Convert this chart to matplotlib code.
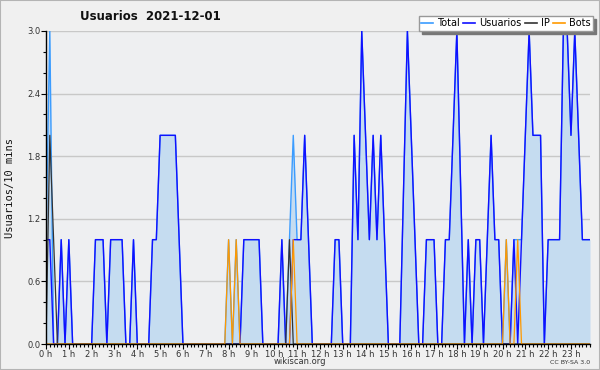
import numpy as np
import matplotlib
matplotlib.use("Agg")
import matplotlib.pyplot as plt
from matplotlib.ticker import MultipleLocator
from matplotlib.lines import Line2D
from matplotlib.patches import Rectangle

# --- data: one value per 10-minute slot (144 slots) ---
usuarios = [1, 1, 0, 0, 1, 0, 1, 0, 0, 0, 0, 0,
            0, 1, 1, 1, 0, 1, 1, 1, 1, 0, 0, 1,
            0, 0, 0, 0, 1, 1, 2, 2, 2, 2, 2, 1,
            0, 0, 0, 0, 0, 0, 0, 0, 0, 0, 0, 0,
            0, 0, 0, 0, 1, 1, 1, 1, 1, 0, 0, 0,
            0, 0, 1, 0, 0, 1, 1, 1, 2, 1, 0, 0,
            0, 0, 0, 0, 1, 1, 0, 0, 0, 2, 1, 3,
            2, 1, 2, 1, 2, 1, 0, 0, 0, 0, 1.5, 3,
            2, 1, 0, 0, 1, 1, 1, 0, 0, 1, 1, 2,
            3, 1.5, 0, 1, 0, 1, 1, 0, 1, 2, 1, 1,
            0, 0, 0, 1, 0, 1, 2, 3, 2, 2, 2, 0,
            1, 1, 1, 1, 3, 3, 2, 3, 2, 1, 1, 1]

total = [1, 3, 0, 0, 1, 0, 1, 0, 0, 0, 0, 0,
         0, 1, 1, 1, 0, 1, 1, 1, 1, 0, 0, 1,
         0, 0, 0, 0, 1, 1, 2, 2, 2, 2, 2, 1,
         0, 0, 0, 0, 0, 0, 0, 0, 0, 0, 0, 0,
         1, 0, 1, 0, 1, 1, 1, 1, 1, 0, 0, 0,
         0, 0, 1, 0, 1, 2, 1, 1, 2, 1, 0, 0,
         0, 0, 0, 0, 1, 1, 0, 0, 0, 2, 1, 3,
         2, 1, 2, 1, 2, 1, 0, 0, 0, 0, 1.5, 3,
         2, 1, 0, 0, 1, 1, 1, 0, 0, 1, 1, 2,
         3, 1.5, 0, 1, 0, 1, 1, 0, 1, 2, 1, 1,
         0, 1, 0, 1, 1, 1, 2, 3, 2, 2, 2, 0,
         1, 1, 1, 1, 3, 3, 2, 3, 2, 1, 1, 1]

ip = [0] * 144
ip[1] = 2
ip[2] = 1
ip[64] = 1

bots = [0] * 144
for k in (48, 50, 65, 121, 124):
    bots[k] = 1

hour_labels = [f"{h} h" for h in range(24)]
title = "Usuarios  2021-12-01"
ylabel = "Usuarios/10 mins"

x = np.arange(144) / 6.0

# --- figure ---
fig = plt.figure(figsize=(6.0, 3.7), dpi=100, facecolor="#f0f0f0")
fig.patches.append(Rectangle((0, 0), 1, 1, transform=fig.transFigure,
                             fill=False, edgecolor="#b4b4b4", lw=1.5))
ax = fig.add_axes([46 / 600, 1 - 344 / 370, (590 - 46) / 600, (344 - 31) / 370])
ax.set_facecolor("#eeeff1")

ax.fill_between(x, total, 0, color="#c5dcf0", lw=0, zorder=1)
ax.plot(x, total, color="#3b9cff", lw=1.0, zorder=3)
ax.plot(x, usuarios, color="#1010ff", lw=1.0, zorder=4)
ax.plot(x, ip, color="#333333", lw=0.9, zorder=5)
ax.plot(x, bots, color="#ff9900", lw=0.9, zorder=6)

ax.set_xlim(0, 143 / 6.0)
ax.set_ylim(0, 3.0)
ax.yaxis.set_minor_locator(MultipleLocator(0.2))
ax.set_yticks(np.arange(0, 3.01, 0.6))
ax.set_yticklabels([f"{v:.1f}" for v in np.arange(0, 3.01, 0.6)])
ax.set_xticks(range(24))
ax.set_xticklabels(hour_labels)
ax.xaxis.set_minor_locator(MultipleLocator(1 / 6.0))

ax.grid(axis="y", color="#c8c8c8", lw=1.0, zorder=0)
ax.set_axisbelow(True)
for s in ("top", "right"):
    ax.spines[s].set_visible(False)
for s in ("left", "bottom"):
    ax.spines[s].set_color("black")
    ax.spines[s].set_linewidth(1.0)
    ax.spines[s].set_zorder(10)

ax.tick_params(axis="both", which="major", length=3.5, width=0.8,
               labelsize=6, colors="black", labelcolor="#333333", pad=0.5)
ax.tick_params(axis="both", which="minor", length=2, width=0.8, colors="black")
ax.tick_params(axis="x", which="minor", length=2.5)

fig.text(10 / 600, 1 - 188 / 370, ylabel, rotation=90, ha="center", va="center",
         fontsize=7.5, family="DejaVu Sans Mono", color="#111111")
fig.text(150 / 600, 1 - 17 / 370, title, ha="center", va="center",
         fontsize=8.5, fontweight="bold", color="#111111")
fig.text(300 / 600, 1 - 362 / 370, "wikiscan.org", ha="center", va="center",
         fontsize=6, color="#333333")
fig.text(590 / 600, 1 - 363 / 370, "CC BY-SA 3.0", ha="right", va="center",
         fontsize=4.5, color="#333333")

handles = [Line2D([], [], color="#3b9cff", lw=1.2),
           Line2D([], [], color="#1010ff", lw=1.2),
           Line2D([], [], color="#333333", lw=1.2),
           Line2D([], [], color="#ff9900", lw=1.2)]
leg = fig.legend(handles, ["Total", "Usuarios", "IP", "Bots"], ncol=4,
                 loc="upper right", bbox_to_anchor=(593 / 600, 1 - 16 / 370),
                 fontsize=7, frameon=True, fancybox=False, framealpha=1,
                 edgecolor="#999999", facecolor="white",
                 shadow={"color": "#777777", "alpha": 1},
                 handlelength=1.2, handletextpad=0.4, columnspacing=0.4,
                 borderpad=0.25, borderaxespad=0)
leg.set_zorder(20)

fig.savefig("out.png", dpi=100, facecolor=fig.get_facecolor())
